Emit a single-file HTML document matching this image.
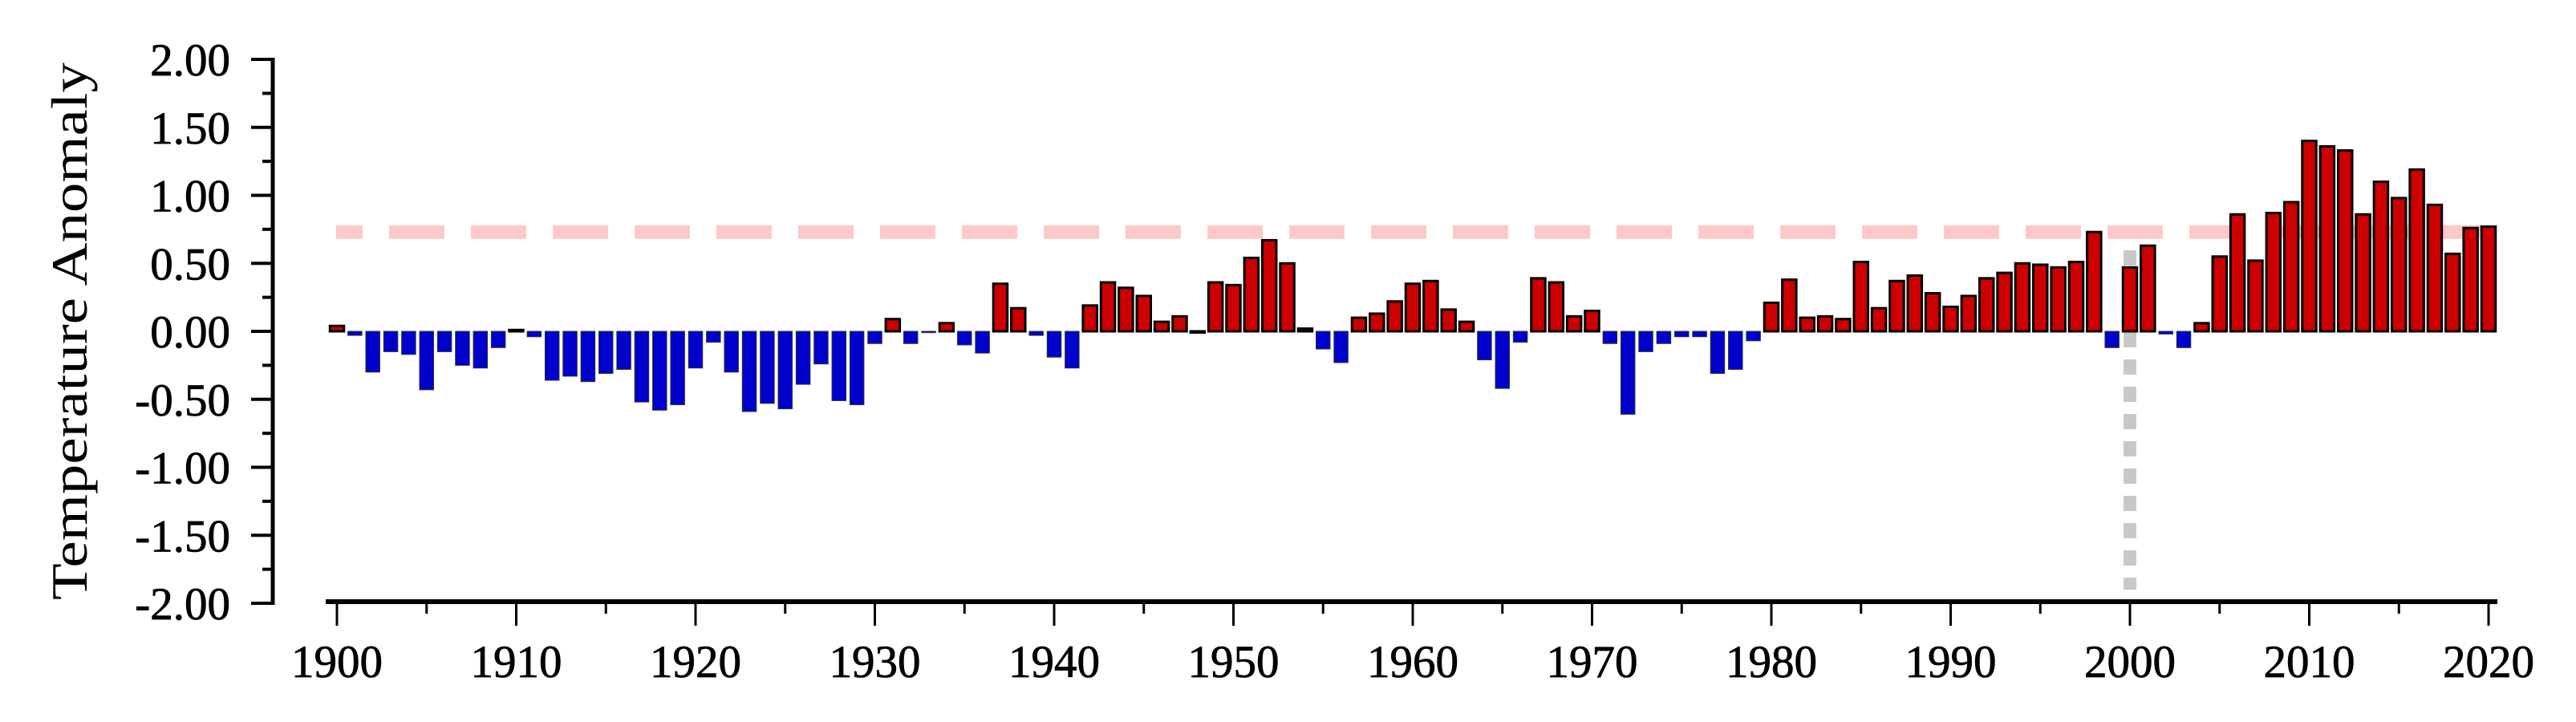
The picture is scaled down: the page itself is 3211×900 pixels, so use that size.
<!DOCTYPE html>
<html><head><meta charset="utf-8"><style>
html,body{margin:0;padding:0;background:#fff;}
svg{display:block;font-family:"Liberation Serif",serif;}
</style></head><body>
<svg id="chart" width="3211" height="900" viewBox="0 0 3211 900" xmlns="http://www.w3.org/2000/svg">
<text x="0" y="0" transform="translate(108,413) rotate(-90)" text-anchor="middle" font-size="64" textLength="670" lengthAdjust="spacingAndGlyphs" fill="#000">Temperature Anomaly</text>
<g id="ygrid"></g>
<g id="bars"></g>
<g id="axes"></g>
</svg>
<script>
const years = [];
for (let y = 1900; y <= 2020; y++) years.push(y);
const anomalies = [
0.04,-0.03,-0.30,-0.15,-0.17,-0.43,-0.15,-0.25,-0.27,-0.12,
0.01,-0.04,-0.36,-0.33,-0.37,-0.31,-0.28,-0.52,-0.58,-0.54,
-0.27,-0.08,-0.30,-0.59,-0.53,-0.57,-0.39,-0.24,-0.51,-0.54,
-0.09,0.09,-0.09,-0.01,0.06,-0.10,-0.16,0.35,0.17,-0.03,
-0.19,-0.27,0.19,0.36,0.32,0.26,0.07,0.11,0.00,0.36,
0.34,0.54,0.67,0.50,0.02,-0.13,-0.23,0.10,0.13,0.22,
0.35,0.37,0.16,0.07,-0.21,-0.42,-0.08,0.39,0.36,0.11,
0.15,-0.09,-0.61,-0.15,-0.09,-0.04,-0.04,-0.31,-0.28,-0.07,
0.21,0.38,0.10,0.11,0.09,0.51,0.17,0.37,0.41,0.28,
0.18,0.26,0.39,0.43,0.50,0.49,0.47,0.51,0.73,-0.12,
0.47,0.63,-0.02,-0.12,0.06,0.55,0.86,0.52,0.87,0.95,
1.40,1.36,1.33,0.86,1.10,0.98,1.19,0.93,0.57,0.76,0.77];
const yTickValues = [2,1.5,1,0.5,0,-0.5,-1,-1.5,-2];
const yTickLabels = ["2.00","1.50","1.00","0.50","0.00","-0.50","-1.00","-1.50","-2.00"];
const xTickYears = [1900,1910,1920,1930,1940,1950,1960,1970,1980,1990,2000,2010,2020];
const thresholdValue = 0.73;
const markerYear = 2000;

const NS = "http://www.w3.org/2000/svg";
const X0 = 420, XPY = 22.35;
const Y0 = 413, YPU = 169.5;
const xs = yr => X0 + (yr - 1900) * XPY;
const ys = v => Y0 - v * YPU;
function mk(tag, attrs, parent){
  const e = document.createElementNS(NS, tag);
  for (const k in attrs) e.setAttribute(k, attrs[k]);
  parent.appendChild(e); return e;
}
const barsG = document.getElementById('bars');
const axesG = document.getElementById('axes');
const bgG = document.getElementById('ygrid');

// threshold dashed line
const th = mk('line',{x1:419,x2:3100,y1:ys(thresholdValue),y2:ys(thresholdValue),stroke:'#ffc8c8','stroke-width':17,'stroke-dasharray':'69 33','stroke-dashoffset':36},bgG);



// marker vertical dotted line (behind bars)
const mv = mk('line',{x1:xs(markerYear),x2:xs(markerYear),y1:312,y2:735,stroke:'#c8c8c8','stroke-width':16,'stroke-dasharray':'19 15'},bgG);



const bw = 17.5;
years.forEach((yr,i)=>{
  const v = anomalies[i];
  const top = Math.min(ys(v), Y0), h = Math.max(Math.abs(ys(v)-Y0), 1.5);
  const pos = v >= 0;
  const r = mk('rect',{x:xs(yr)-bw/2,y:top,width:bw,height:h,
    fill: pos ? '#cc0000' : '#0000cc',
    stroke: pos ? '#000' : '#333', 'stroke-width': pos ? 3 : 1},barsG);
  
  
});

// y axis
const ya = mk('line',{x1:340,x2:340,y1:72,y2:754,stroke:'#000','stroke-width':5},axesG);


for (let v=-2; v<=2.001; v+=0.25){
  const major = Math.abs(v*2 - Math.round(v*2)) < 1e-6;
  mk('line',{x1: major?313:327, x2:340, y1:ys(v), y2:ys(v), stroke:'#000','stroke-width':4},axesG);
}
yTickValues.forEach((v,i)=>{
  const t = mk('text',{x:287,y:ys(v)+20,'text-anchor':'end','font-size':57,fill:'#000',stroke:'#000','stroke-width':0.8},axesG);
  t.textContent = yTickLabels[i];
  
  
});

// x axis
const xa = mk('line',{x1:406,x2:3113,y1:750,y2:750,stroke:'#000','stroke-width':6},axesG);


for (let yr=1900; yr<=2020; yr+=5){
  const major = yr % 10 === 0;
  mk('line',{x1:xs(yr),x2:xs(yr),y1:750,y2: major?780:765,stroke:'#000','stroke-width':3},axesG);
}
xTickYears.forEach(yr=>{
  const t = mk('text',{x:xs(yr),y:844,'text-anchor':'middle','font-size':57,fill:'#000',stroke:'#000','stroke-width':0.8},axesG);
  t.textContent = String(yr);
  
  
});
</script>
</body></html>
